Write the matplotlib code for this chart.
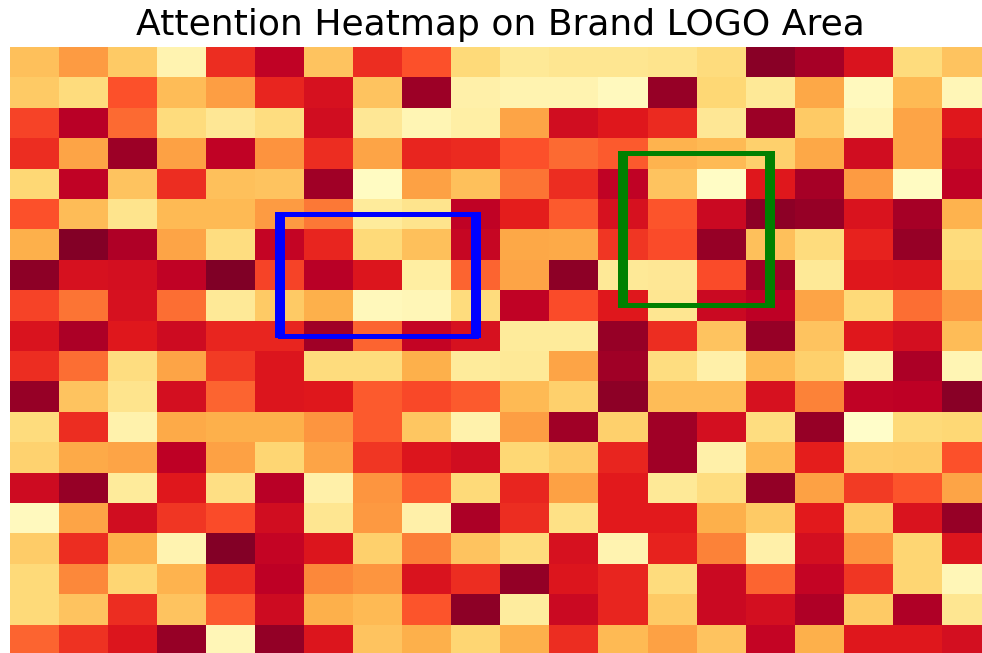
import matplotlib
matplotlib.use('Agg')
import matplotlib.pyplot as plt
from matplotlib.patches import Rectangle
import numpy as np

# attention scores per cell, row by row (top to bottom)
attention = [
    [0.33, 0.45, 0.30, 0.08, 0.70, 0.86, 0.32, 0.70, 0.62, 0.24, 0.15, 0.17, 0.17, 0.18, 0.23, 0.98, 0.92, 0.78, 0.23, 0.32],
    [0.30, 0.23, 0.62, 0.34, 0.44, 0.72, 0.79, 0.32, 0.94, 0.10, 0.08, 0.08, 0.04, 0.95, 0.25, 0.15, 0.41, 0.04, 0.35, 0.06],
    [0.65, 0.88, 0.57, 0.23, 0.16, 0.22, 0.81, 0.16, 0.07, 0.11, 0.42, 0.81, 0.76, 0.71, 0.16, 0.94, 0.30, 0.07, 0.42, 0.76],
    [0.70, 0.42, 0.94, 0.43, 0.86, 0.48, 0.70, 0.42, 0.72, 0.71, 0.62, 0.57, 0.60, 0.37, 0.35, 0.28, 0.41, 0.81, 0.42, 0.83],
    [0.25, 0.86, 0.32, 0.70, 0.33, 0.32, 0.93, 0.03, 0.43, 0.33, 0.55, 0.70, 0.86, 0.32, 0.02, 0.76, 0.92, 0.45, 0.03, 0.86],
    [0.62, 0.34, 0.18, 0.35, 0.35, 0.45, 0.54, 0.14, 0.18, 0.86, 0.74, 0.60, 0.79, 0.61, 0.83, 0.97, 0.95, 0.78, 0.92, 0.37],
    [0.38, 0.99, 0.90, 0.42, 0.22, 0.85, 0.72, 0.24, 0.33, 0.84, 0.41, 0.40, 0.68, 0.63, 0.95, 0.33, 0.23, 0.73, 0.95, 0.23],
    [0.97, 0.79, 0.80, 0.86, 1.00, 0.65, 0.88, 0.77, 0.12, 0.58, 0.42, 0.97, 0.15, 0.16, 0.63, 0.93, 0.15, 0.76, 0.77, 0.26],
    [0.65, 0.55, 0.79, 0.56, 0.15, 0.30, 0.38, 0.05, 0.06, 0.23, 0.86, 0.63, 0.76, 0.17, 0.83, 0.87, 0.42, 0.24, 0.56, 0.46],
    [0.78, 0.91, 0.76, 0.82, 0.72, 0.72, 0.93, 0.58, 0.85, 0.79, 0.14, 0.14, 0.95, 0.70, 0.32, 0.95, 0.32, 0.76, 0.80, 0.34],
    [0.70, 0.56, 0.22, 0.42, 0.67, 0.77, 0.23, 0.23, 0.38, 0.14, 0.15, 0.42, 0.93, 0.22, 0.10, 0.35, 0.28, 0.09, 0.91, 0.07],
    [0.95, 0.32, 0.18, 0.80, 0.58, 0.77, 0.76, 0.60, 0.64, 0.60, 0.35, 0.28, 0.97, 0.34, 0.34, 0.79, 0.52, 0.86, 0.87, 0.98],
    [0.23, 0.70, 0.09, 0.40, 0.38, 0.38, 0.47, 0.60, 0.31, 0.09, 0.44, 0.93, 0.28, 0.93, 0.80, 0.22, 0.95, 0.01, 0.24, 0.25],
    [0.27, 0.40, 0.42, 0.87, 0.43, 0.26, 0.42, 0.68, 0.77, 0.81, 0.25, 0.30, 0.72, 0.93, 0.10, 0.35, 0.74, 0.29, 0.30, 0.62],
    [0.82, 0.95, 0.14, 0.76, 0.21, 0.88, 0.10, 0.47, 0.60, 0.24, 0.72, 0.43, 0.75, 0.15, 0.22, 0.96, 0.43, 0.67, 0.61, 0.42],
    [0.04, 0.42, 0.81, 0.68, 0.63, 0.81, 0.17, 0.46, 0.10, 0.91, 0.70, 0.20, 0.75, 0.75, 0.38, 0.30, 0.75, 0.30, 0.78, 0.95],
    [0.29, 0.70, 0.38, 0.08, 0.99, 0.85, 0.77, 0.28, 0.53, 0.32, 0.23, 0.79, 0.08, 0.73, 0.52, 0.10, 0.80, 0.48, 0.26, 0.77],
    [0.24, 0.51, 0.26, 0.37, 0.70, 0.87, 0.51, 0.47, 0.78, 0.70, 0.96, 0.77, 0.72, 0.23, 0.83, 0.58, 0.85, 0.68, 0.26, 0.06],
    [0.24, 0.32, 0.70, 0.32, 0.60, 0.82, 0.38, 0.35, 0.61, 0.97, 0.13, 0.83, 0.72, 0.30, 0.83, 0.80, 0.90, 0.30, 0.90, 0.17],
    [0.58, 0.69, 0.77, 0.95, 0.06, 0.96, 0.77, 0.32, 0.38, 0.26, 0.38, 0.70, 0.35, 0.43, 0.32, 0.85, 0.38, 0.76, 0.76, 0.80],
]

# logo regions (col, row, width, height) in cell units
blue_box = (5, 5, 4, 4)
green_box = (12, 3, 3, 5)


def draw_box(ax, box, color):
    x, y, w, h = box
    ax.add_patch(Rectangle((x, y), w, h, fill=False, edgecolor=color, linewidth=3.6))
    # side edges a bit heavier than top/bottom
    ax.vlines([x, x + w], y - 0.08, y + h + 0.08, colors=color, linewidth=7.2)


fig = plt.figure(figsize=(9.82, 6.53), dpi=100)
ax = fig.add_axes([0.0102, -0.003, 0.998, 0.931])
ax.imshow(np.array(attention), cmap='YlOrRd', vmin=0, vmax=1,
          aspect='auto', interpolation='nearest')
draw_box(ax, blue_box, 'blue')
draw_box(ax, green_box, 'green')
ax.set_xlim(-0.5, 19.5)
ax.set_ylim(19.5, -0.5)
ax.set_title('Attention Heatmap on Brand LOGO Area', fontsize=26, pad=9)
ax.axis('off')

plt.savefig('out.png', dpi=100)
plt.close()
